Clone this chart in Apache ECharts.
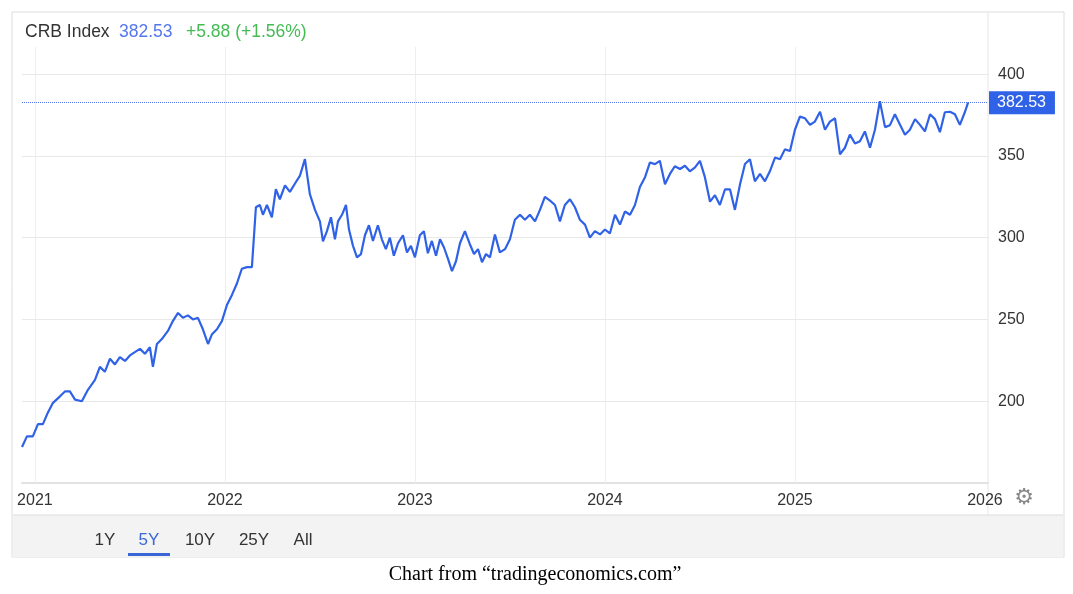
<!DOCTYPE html>
<html><head><meta charset="utf-8">
<script src="https://cdn.jsdelivr.net/npm/echarts@6/dist/echarts.min.js"></script>
<style>html,body{margin:0;padding:0;background:#fff}#c{width:1073px;height:594px}</style>
</head><body><div id="c"></div>
<script>
const years = [2020.932,2020.958,2020.989,2021.016,2021.042,2021.068,2021.095,2021.132,2021.158,2021.184,2021.211,2021.247,2021.279,2021.316,2021.342,2021.368,2021.395,2021.421,2021.447,2021.474,2021.5,2021.526,2021.553,2021.579,2021.605,2021.621,2021.642,2021.668,2021.7,2021.726,2021.753,2021.779,2021.805,2021.832,2021.858,2021.884,2021.911,2021.932,2021.958,2021.984,
2022.011,2022.037,2022.063,2022.089,2022.116,2022.142,2022.163,2022.184,2022.2,2022.221,2022.247,2022.268,2022.289,2022.316,2022.342,2022.368,2022.395,2022.421,2022.447,2022.474,2022.5,2022.516,2022.537,2022.558,2022.579,2022.595,2022.616,2022.637,2022.653,2022.674,2022.695,2022.716,2022.737,2022.758,2022.779,2022.805,2022.826,2022.847,2022.868,2022.889,2022.911,2022.937,2022.958,2022.979,
2023.0,2023.026,2023.047,2023.068,2023.089,2023.111,2023.132,2023.153,2023.174,2023.195,2023.216,2023.237,2023.263,2023.289,2023.311,2023.332,2023.353,2023.374,2023.395,2023.421,2023.447,2023.474,2023.5,2023.526,2023.553,2023.579,2023.605,2023.632,2023.658,2023.684,2023.711,2023.737,2023.763,2023.789,2023.816,2023.842,2023.868,2023.895,2023.921,2023.947,2023.974,
2024.0,2024.026,2024.053,2024.079,2024.105,2024.132,2024.158,2024.184,2024.211,2024.237,2024.263,2024.289,2024.316,2024.342,2024.368,2024.395,2024.421,2024.447,2024.474,2024.5,2024.526,2024.553,2024.579,2024.605,2024.632,2024.658,2024.684,2024.711,2024.737,2024.763,2024.789,2024.816,2024.842,2024.868,2024.895,2024.921,2024.947,2024.974,
2025.0,2025.026,2025.053,2025.079,2025.105,2025.132,2025.158,2025.184,2025.211,2025.237,2025.263,2025.289,2025.316,2025.342,2025.368,2025.395,2025.421,2025.447,2025.474,2025.5,2025.526,2025.553,2025.579,2025.605,2025.632,2025.658,2025.684,2025.711,2025.737,2025.763,2025.789,2025.816,2025.842,2025.868,2025.895,2025.911];
const values = [172,178.5,178.5,186,186,193,199,203,206,206,201,200,207,213,221,218,226,222.5,227,224.6,228,230,232,229,233,221,235,238,243,249,254,251,252.5,250,251,244,235,241,244,249,
259,265,272,281,282,282,318.6,320,314,320,312.5,329.6,323.5,332,328,333,338,348,326.6,317,310,297.8,304,312.5,299,310,314,320,305,295,288,290,301.5,307.6,298,307.6,299,293,300,289,296.6,301.5,291,295,
288,301.5,304,290.5,298,289,299,294,287,279.5,285.6,296.6,304,296,290,293,285,290,288,302,291,293,299,311,314,311,314,310,317,325,322.7,320,310,320,323.5,318.6,311,308,300,304,302,
305,302.6,314,308,316,314,320,331,337,346,345,347,332.7,339,343.7,342,344,340.6,343,347,337,322,326,320,329.6,329.6,317,332.7,345,348,334.5,339,334.5,340.6,349,348,354,353,
366,374,373,369,371,377,366,371,373,351,355,363,357.6,359,365,355,366,383.5,367.6,368.8,375.5,369,363,366,372.5,369,365,375.5,372.5,364.5,376.7,377,375.5,369,377,382.53];
const yearTicks = [2021,2022,2023,2024,2025,2026];
const yTicks = [200,250,300,350,400];
const lastValue = 382.53, change = '+5.88', changePct = '(+1.56%)';
const ranges = ['1Y','5Y','10Y','25Y','All'];

const chart = echarts.init(document.getElementById('c'));
const data = years.map((y,i)=>[y,values[i]]);
const F = 'Arial, "Liberation Sans", sans-serif';
const g = [];
g.push({type:'rect',shape:{x:12,y:12,width:1052,height:545},style:{fill:'none',stroke:'#ddd',lineWidth:1},z:-1});
g.push({type:'rect',shape:{x:13,y:515,width:1050,height:42},style:{fill:'#f3f3f3'},z:-1});
g.push({type:'line',shape:{x1:13,y1:515,x2:1063,y2:515},style:{stroke:'#ddd',lineWidth:1}});
g.push({type:'line',shape:{x1:988,y1:12,x2:988,y2:515},style:{stroke:'#e6e6e6',lineWidth:1}});
g.push({type:'rect',shape:{x:13,y:13,width:974,height:34},style:{fill:'#fff'},z:100});
const rx=[105,149,200,254,303];
ranges.forEach((r,i)=>g.push({type:'text',style:{text:r,x:rx[i],y:540,align:'center',verticalAlign:'middle',font:'17px '+F,fill:i==1?'#3a66d8':'#333'}}));
g.push({type:'rect',shape:{x:128,y:553,width:42,height:3},style:{fill:'#3a66d8'}});
g.push({type:'text',style:{text:'⚙',x:1024,y:498,align:'center',verticalAlign:'middle',font:'22px "DejaVu Sans"',fill:'#888'}});
g.push({type:'text',style:{text:'Chart from “tradingeconomics.com”',x:535,y:575,align:'center',verticalAlign:'middle',font:'20px "Liberation Serif", "Times New Roman", serif',fill:'#000'}});
g.push({type:'text',z:101,style:{text:'CRB Index',x:25,y:32,verticalAlign:'middle',font:'17.5px '+F,fill:'#333'}});
g.push({type:'text',z:101,style:{text:String(lastValue),x:119,y:32,verticalAlign:'middle',font:'17.5px '+F,fill:'#5577ee'}});
g.push({type:'text',z:101,style:{text:change+' '+changePct,x:186,y:32,verticalAlign:'middle',font:'17.5px '+F,fill:'#44bb55'}});

chart.setOption({
  animation:false,
  grid:{left:22,right:85,top:12,bottom:111},
  xAxis:{type:'value',min:2020.932,max:2026.016,
    axisLine:{show:true,lineStyle:{color:'#e2e2e2',width:2}},axisTick:{show:false},splitLine:{show:false},
    axisLabel:{customValues:yearTicks,formatter:v=>String(Math.round(v)),color:'#333',fontSize:16,fontFamily:F,margin:10,showMaxLabel:true}},
  yAxis:{type:'value',position:'right',min:150,max:438,
    axisLine:{show:false},axisTick:{show:false,customValues:yTicks},
    splitLine:{show:false},
    axisLabel:{customValues:yTicks,color:'#333',fontSize:16,fontFamily:F,margin:10}},
  graphic:g,
  series:[{type:'line',data:data,showSymbol:false,lineStyle:{color:'#2f62e6',width:2.2},itemStyle:{color:'#2f62e6'},
    markLine:{symbol:'none',silent:true,z:1,data:[
      ...yearTicks.slice(0,5).map(y=>({xAxis:y,lineStyle:{color:'#eeeeee',type:'solid',width:1},label:{show:false}})),
      ...yTicks.map(v=>({yAxis:v,lineStyle:{color:'#e8e8e8',type:'solid',width:1},label:{show:false}})),
      {yAxis:lastValue,lineStyle:{color:'#5577ee',type:'dotted',width:1},label:{show:true,position:'end',formatter:String(lastValue),color:'#fff',backgroundColor:'#2f62e6',padding:[4,9,3,8],fontSize:16,fontFamily:F,distance:1}}
    ]}}]
});
</script></body></html>
